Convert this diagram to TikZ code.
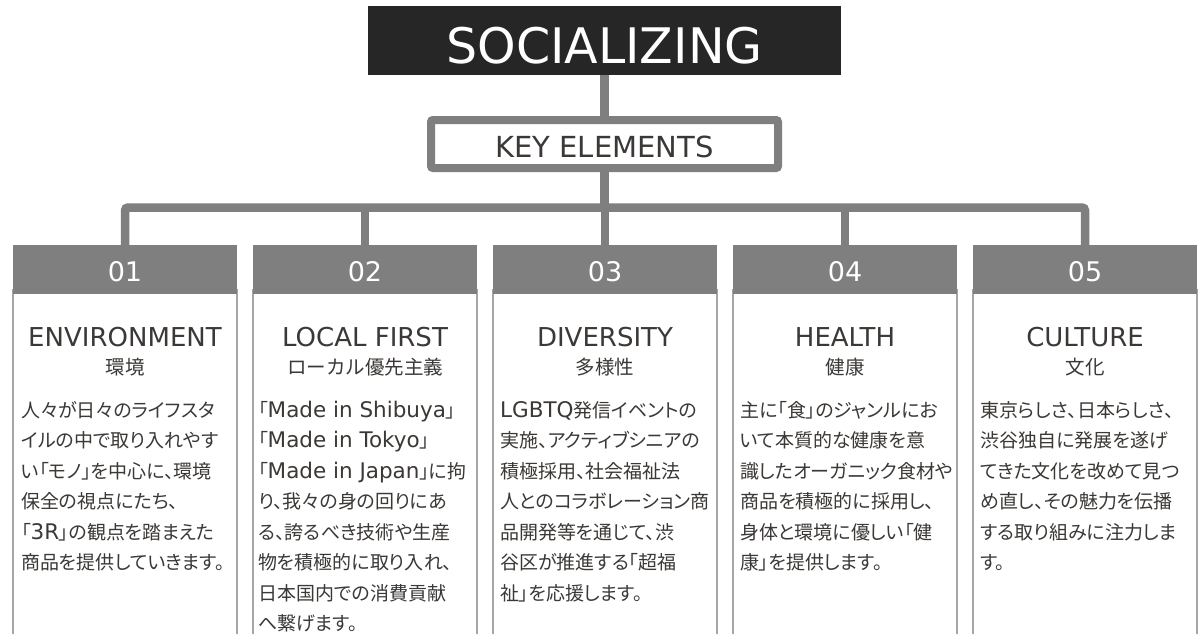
\documentclass[tikz,border=0pt]{standalone}
\usepackage{fontspec}
\setmainfont{DejaVu Sans}
\newfontfamily\jp[RawFeature=+palt]{Noto Sans CJK JP}
\newfontfamily\jpn{Noto Sans CJK JP}
\definecolor{dk}{HTML}{262626}
\definecolor{gr}{HTML}{7F7F7F}
\definecolor{bd}{HTML}{A6A6A6}
\definecolor{tx}{HTML}{3B3835}
\newcommand{\lat}[1]{{\rmfamily\fontsize{21.5}{30.5}\selectfont #1}}
\newcommand{\bodytext}[1]{\parbox[t]{222pt}{\jp\fontsize{19}{30.5}\selectfont\raggedright #1}}
\tikzset{
  conn/.style={draw=gr, line width=8.5pt},
  header/.style={fill=gr, text=white, minimum width=224pt, minimum height=49pt, inner sep=0pt,
    font=\fontsize{27}{30}\selectfont, text height=24pt, text depth=0pt},
  colbox/.style={draw=bd, line width=1.5pt},
  title/.style={text=tx, anchor=base, inner sep=0pt, font=\fontsize{26}{30}\selectfont},
  subtitle/.style={text=tx, anchor=base, inner sep=0pt, font=\jpn\fontsize{19.5}{22}\selectfont},
  body/.style={text=tx, anchor=base west, inner sep=0pt}
}
\begin{document}
\begin{tikzpicture}[x=1pt,y=-1pt]
\useasboundingbox (0,0) rectangle (1201,633);
\clip (0,0) rectangle (1201,633);
\fill[white] (0,0) rectangle (1201,633);

% column boxes
\foreach \i/\xl in {1/13,2/253,3/493,4/733,5/973}{
  \draw[colbox] (\xl,290) rectangle (\xl+224,700);
}

% top boxes
\node[fill=dk, text=white, minimum width=473pt, minimum height=69pt, inner sep=0pt,
  font=\fontsize{49}{52}\selectfont, text height=45pt, text depth=0pt] (soc) at (604.5,40.5) {SOCIALIZING};
\node[draw=gr, line width=8pt, fill=white, rounded corners=2pt, minimum width=347pt, minimum height=48pt,
  inner sep=0pt, text=tx, font=\fontsize{29}{32}\selectfont, text height=26pt, text depth=0pt] (key) at (604.5,144) {KEY ELEMENTS};

% headers
\node[header] (h1) at (125,269.5) {01};
\node[header] (h2) at (365,269.5) {02};
\node[header] (h3) at (605,269.5) {03};
\node[header] (h4) at (845,269.5) {04};
\node[header] (h5) at (1085,269.5) {05};

% connectors
\coordinate (barL) at (125,207.5);
\coordinate (barR) at (1085,207.5);
\draw[conn] (soc.south) -- (key.north);
\draw[conn] (key.south) -- (key.south |- barL);
\draw[conn, rounded corners=3pt] (h1.north) -- (barL) -- (barR) -- (h5.north);
\draw[conn] (h2.north) -- (h2.north |- barL);
\draw[conn] (h3.north) -- (h3.north |- barL);
\draw[conn] (h4.north) -- (h4.north |- barL);
% redraw header fills over connector ends
\foreach \n/\xc/\t in {1/125/01,2/365/02,3/605/03,4/845/04,5/1085/05}{
  \node[header] at (\xc,269.5) {\t};
}

% titles
\node[title] (t1) at (125,346) {ENVIRONMENT};
\node[title] (t2) at (365,346) {LOCAL FIRST};
\node[title] (t3) at (605,346) {DIVERSITY};
\node[title] (t4) at (845,346) {HEALTH};
\node[title] (t5) at (1085,346) {CULTURE};
\node[subtitle] (s1) at (125,374) {環境};
\node[subtitle] (s2) at (365,374) {ローカル優先主義};
\node[subtitle] (s3) at (605,374) {多様性};
\node[subtitle] (s4) at (845,374) {健康};
\node[subtitle] (s5) at (1085,374) {文化};

% body texts
\node[body] (b1) at (21,417) {\bodytext{人々が日々のライフスタ\\イルの中で取り入れやす\\い「モノ」を中心に、環境\\保全の視点にたち、\\「\lat{3R}」の観点を踏まえた\\商品を提供していきます。}};
\node[body] (b2) at (258,417) {\bodytext{「\lat{Made in Shibuya}」\\「\lat{Made in Tokyo}」\\「\lat{Made in Japan}」に拘\\り、我々の身の回りにあ\\る、誇るべき技術や生産\\物を積極的に取り入れ、\\日本国内での消費貢献\\へ繋げます。}};
\node[body] (b3) at (500,417) {\bodytext{\lat{LGBTQ}発信イベントの\\実施、アクティブシニアの\\積極採用、社会福祉法\\人とのコラボレーション商\\品開発等を通じて、渋\\谷区が推進する「超福\\祉」を応援します。}};
\node[body] (b4) at (740,417) {\bodytext{主に「食」のジャンルにお\\いて本質的な健康を意\\識したオーガニック食材や\\商品を積極的に採用し、\\身体と環境に優しい「健\\康」を提供します。}};
\node[body] (b5) at (980,417) {\bodytext{東京らしさ、日本らしさ、\\渋谷独自に発展を遂げ\\てきた文化を改めて見つ\\め直し、その魅力を伝播\\する取り組みに注力しま\\す。}};
\end{tikzpicture}
\end{document}
